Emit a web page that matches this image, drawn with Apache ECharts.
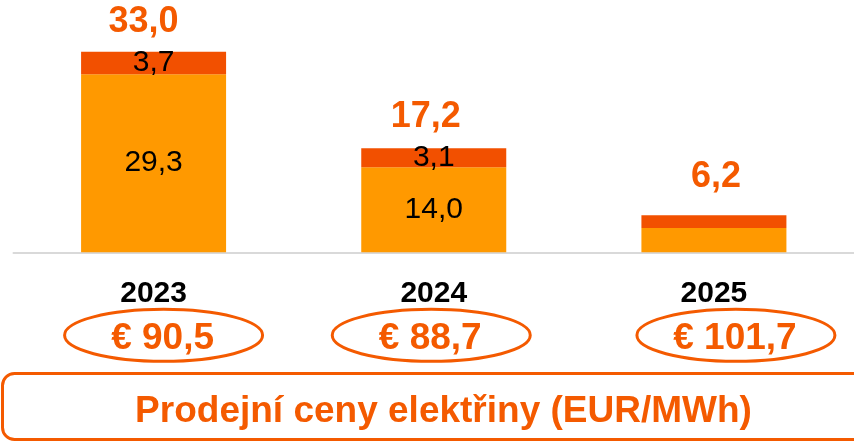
<!DOCTYPE html>
<html><head><meta charset="utf-8">
<script src="https://cdn.jsdelivr.net/npm/echarts@6/dist/echarts.min.js"></script>
<style>html,body{margin:0;padding:0;background:#fff}#c{width:854px;height:442px}</style>
</head><body><div id="c"></div>
<script>
const categories = ['2023', '2024', '2025'];
const baseValues = [29.3, 14.0, 4.0];
const topValues = [3.7, 3.1, 2.1];
const totals = [33.0, 17.2, 6.2];
const prices = [90.5, 88.7, 101.7];
const showInner = [true, true, false];
const title = 'Prodejní ceny elektřiny (EUR/MWh)';

const ORANGE = '#FF9900';
const RED = '#F25000';
const TXT = '#F45A00';
const FONT = '"Liberation Sans", Arial, sans-serif';
const fmt = v => v.toFixed(1).replace('.', ',');

const totalOffsets = [[-10, 0], [-8, 0], [2, 0]];
const totalDist = [12, 13, 20];
const ellipseDx = [10, -2.5, 22];

const chart = echarts.init(document.getElementById('c'), null, {renderer: 'canvas'});
chart.setOption({
  animation: false,
  textStyle: {fontFamily: FONT},
  grid: {left: 13.5, width: 846, top: 9.1, height: 243.2},
  xAxis: {
    type: 'category', data: categories,
    axisLine: {lineStyle: {color: '#d9d9d9', width: 2}},
    axisTick: {show: false},
    axisLabel: {color: '#000', fontWeight: 'bold', fontSize: 30, margin: 26, fontFamily: FONT}
  },
  yAxis: {type: 'value', min: 0, max: 40, show: false, splitLine: {show: false}},
  series: [
    {
      type: 'bar', stack: 's', barWidth: 145,
      itemStyle: {color: ORANGE},
      data: baseValues.map((v, i) => ({
        value: v,
        label: {show: showInner[i]}
      })),
      label: {position: 'inside', color: '#000', fontSize: 30, fontFamily: FONT, formatter: p => fmt(p.value)}
    },
    {
      type: 'bar', stack: 's', barWidth: 145,
      itemStyle: {color: RED},
      data: topValues.map((v, i) => ({
        value: v,
        label: {show: showInner[i]}
      })),
      label: {position: 'inside', color: '#000', fontSize: 30, fontFamily: FONT, formatter: p => fmt(p.value)}
    },
    {
      type: 'bar', stack: 's', barWidth: 145,
      itemStyle: {color: 'rgba(0,0,0,0)'},
      silent: true,
      data: totals.map((t, i) => ({
        value: 0,
        label: {show: true, offset: totalOffsets[i], distance: totalDist[i], formatter: fmt(t)}
      })),
      label: {position: 'top', color: TXT, fontSize: 36, fontWeight: 'bold', fontFamily: FONT}
    },
    {
      type: 'custom',
      clip: false,
      silent: true,
      data: prices.map((p, i) => [i, p]),
      encode: {x: 0},
      renderItem: (params, api) => {
        const i = api.value(0);
        const pt = api.coord([i, 0]);
        const cx = pt[0] + ellipseDx[i];
        const cy = pt[1] + 83;
        return {
          type: 'group',
          children: [
            {type: 'ellipse', shape: {cx: cx, cy: cy, rx: 99, ry: 26},
             style: {fill: 'none', stroke: TXT, lineWidth: 3}},
            {type: 'text', x: cx - 1, y: cy + 3,
             style: {text: '€ ' + fmt(api.value(1)), fill: TXT, font: 'bold 37px ' + FONT,
                     align: 'center', verticalAlign: 'middle'}}
          ]
        };
      }
    }
  ],
  graphic: [
    {type: 'rect', shape: {x: 2.5, y: 373.5, width: 900, height: 66, r: 12},
     style: {fill: 'none', stroke: TXT, lineWidth: 3}},
    {type: 'text', x: 443.5, y: 412,
     style: {text: title, fill: TXT, font: 'bold 37px ' + FONT, align: 'center', verticalAlign: 'middle'}}
  ]
});
</script></body></html>
